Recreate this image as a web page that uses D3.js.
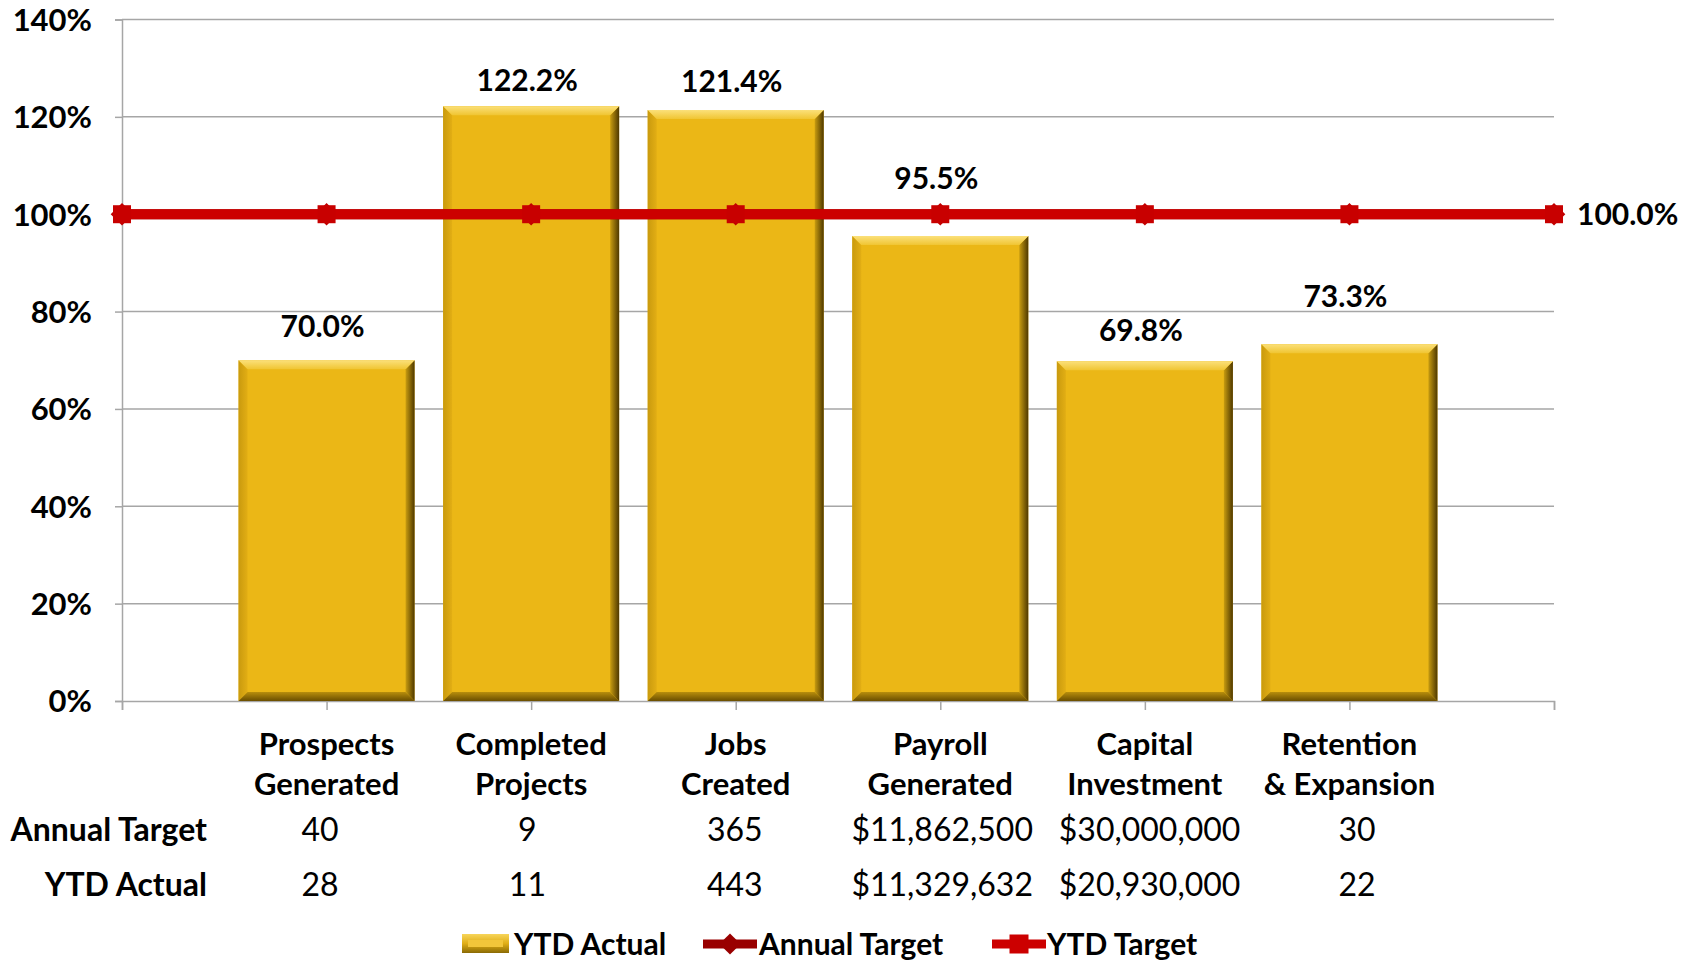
<!DOCTYPE html>
<html>
<head>
<meta charset="utf-8">
<script src="https://cdn.jsdelivr.net/npm/d3@7"></script>
<style>
  body { margin: 0; background: #fff; }
  svg text { font-family: Lato, "Open Sans", sans-serif; fill: #000; }
</style>
</head>
<body>
<svg id="svgContent" width="1694" height="960"></svg>
<script>
// chart data
const categories = ["", "Prospects\nGenerated", "Completed\nProjects", "Jobs\nCreated", "Payroll\nGenerated", "Capital\nInvestment", "Retention\n& Expansion", " "];
const ytdActual = [null, 0.700, 1.222, 1.214, 0.955, 0.698, 0.733, null];
const annualTarget = [1, 1, 1, 1, 1, 1, 1, 1];
const ytdTarget = [1, 1, 1, 1, 1, 1, 1, 1];
const yTicks = [0, 0.2, 0.4, 0.6, 0.8, 1.0, 1.2, 1.4];
const tableRows = ["Annual Target", "YTD Actual"];
const annualTargetText = ["", "40", "9", "365", "$11,862,500", "$30,000,000", "30", ""];
const ytdActualText = ["", "28", "11", "443", "$11,329,632", "$20,930,000", "22", ""];

svg = d3.select('#svgContent')
width = +svg.attr('width');
height = +svg.attr('height');

const x = d3.scalePoint()
    .domain(d3.range(categories.length))
    .range([122, 1554]);
// the data table columns are a little wider than the plot categories
const tx = d3.scalePoint()
    .domain(d3.range(categories.length))
    .range([112.6, 1564.4]);
const y = d3.scaleLinear()
    .domain([0, 1.4])
    .range([701, 19.5]);

const barW = 176;
const bev = 9;
const fmt = d3.format(".1%");

// gradients for the bevelled bars
const defs = svg.append('defs');
function grad(id, x2, y2, stops) {
    const g = defs.append('linearGradient').attr('id', id)
        .attr('x1', 0).attr('y1', 0).attr('x2', x2).attr('y2', y2);
    stops.forEach(s => g.append('stop').attr('offset', s[0]).attr('stop-color', s[1]));
}
grad('bTop', 0, 1, [[0, '#FBE07A'], [1, '#F0C532']]);
grad('bRight', 1, 0, [[0, '#C89C10'], [1, '#4E3800']]);
grad('bBottom', 0, 1, [[0, '#B88E0C'], [1, '#6A4E00']]);
grad('bLeft', 1, 0, [[0, '#C99A0E'], [1, '#E2AE14']]);
grad('legSw', 0, 1, [[0, '#F7D55A'], [0.5, '#E0AE16'], [1, '#8A6A04']]);

// gridlines + y axis
const yAxis = svg.append('g')
    .attr('transform', 'translate(122,0)')
    .call(d3.axisLeft(y).tickValues(yTicks).tickFormat(d3.format(".0%")).tickSize(7).tickPadding(23));
yAxis.select('.domain').attr('stroke', '#A6A6A6').attr('stroke-width', 1.5);
yAxis.selectAll('.tick line').attr('stroke', '#A6A6A6').attr('stroke-width', 1.5);
yAxis.selectAll('.tick text')
    .attr('font-family', 'Lato, sans-serif')
    .attr('font-size', 31).attr('font-weight', 700).attr('fill', '#000')
    .attr('dy', '0.35em');

svg.append('g')
    .selectAll('line')
    .data(yTicks.filter(d => d > 0))
    .enter()
    .append('line')
    .attr('x1', 122).attr('x2', 1554)
    .attr('y1', d => y(d)).attr('y2', d => y(d))
    .attr('stroke', '#A6A6A6').attr('stroke-width', 1.5);

// x axis with ticks on categories
const xAxis = svg.append('g')
    .attr('transform', 'translate(0,' + y(0) + ')')
    .call(d3.axisBottom(x).tickSize(9).tickFormat(''));
xAxis.select('.domain').attr('stroke', '#A6A6A6').attr('stroke-width', 1.5);
xAxis.selectAll('.tick line').attr('stroke', '#A6A6A6').attr('stroke-width', 1.5);

// bars
const barData = ytdActual.map((v, i) => ({ v: v, i: i })).filter(d => d.v != null);
const bars = svg.append('g')
    .selectAll('g')
    .data(barData)
    .enter().append('g')
    .attr('transform', d => 'translate(' + (x(d.i) - barW / 2) + ',' + y(d.v) + ')');

bars.append('rect')
    .attr('width', barW)
    .attr('height', d => y(0) - y(d.v))
    .attr('fill', '#EBB716');
bars.append('path')
    .attr('fill', 'url(#bLeft)')
    .attr('d', d => { const h = y(0) - y(d.v); return `M0,0L${bev},${bev}L${bev},${h - bev}L0,${h}Z`; });
bars.append('path')
    .attr('fill', 'url(#bBottom)')
    .attr('d', d => { const h = y(0) - y(d.v); return `M0,${h}L${bev},${h - bev}L${barW - bev},${h - bev}L${barW},${h}Z`; });
bars.append('path')
    .attr('fill', 'url(#bRight)')
    .attr('d', d => { const h = y(0) - y(d.v); return `M${barW},0L${barW - bev},${bev}L${barW - bev},${h - bev}L${barW},${h}Z`; });
bars.append('path')
    .attr('fill', 'url(#bTop)')
    .attr('d', `M0,0L${barW},0L${barW - bev},${bev}L${bev},${bev}Z`);

// target lines
const line = d3.line()
    .x((d, i) => x(i))
    .y(d => y(d));

function marker(g, color, kind, size) {
    if (kind === 'diamond') {
        g.append('rect')
            .attr('x', -size / 2).attr('y', -size / 2)
            .attr('width', size).attr('height', size)
            .attr('transform', 'rotate(45)')
            .attr('fill', color);
    } else {
        g.append('rect')
            .attr('x', -size / 2).attr('y', -size / 2)
            .attr('width', size).attr('height', size)
            .attr('fill', color);
    }
}

svg.append('path')
    .datum(annualTarget)
    .attr('d', line)
    .attr('fill', 'none')
    .attr('stroke', '#990000')
    .attr('stroke-width', 10);
svg.append('g')
    .selectAll('g')
    .data(annualTarget)
    .enter().append('g')
    .attr('transform', (d, i) => 'translate(' + x(i) + ',' + y(d) + ')')
    .each(function () { marker(d3.select(this), '#C00000', 'diamond', 16); });

svg.append('path')
    .datum(ytdTarget)
    .attr('d', line)
    .attr('fill', 'none')
    .attr('stroke', '#CC0000')
    .attr('stroke-width', 10);
svg.append('g')
    .selectAll('g')
    .data(ytdTarget)
    .enter().append('g')
    .attr('transform', (d, i) => 'translate(' + x(i) + ',' + y(d) + ')')
    .each(function () { marker(d3.select(this), '#C80000', 'square', 18); });

// data labels (a few were dragged by hand in the original)
const labelNudge = [0, 4, -4, -1, 28, 1, 18, 0];
svg.append('g')
    .selectAll('text')
    .data(barData)
    .enter()
    .append('text')
    .attr('x', d => x(d.i) - 4)
    .attr('y', d => y(d.v) - 30 - labelNudge[d.i])
    .attr('dy', '0.35em')
    .attr('text-anchor', 'middle')
    .attr('font-size', 30)
    .attr('font-weight', 700)
    .text(d => fmt(d.v));

svg.append('text')
    .attr('x', x(ytdTarget.length - 1) + 23)
    .attr('y', y(ytdTarget[ytdTarget.length - 1]))
    .attr('dy', '0.35em')
    .attr('font-size', 30)
    .attr('font-weight', 700)
    .text(fmt(ytdTarget[ytdTarget.length - 1]));

// category labels
const catG = svg.append('g')
    .selectAll('text')
    .data(categories.map((c, i) => ({ c: c, i: i })).filter(d => d.c.trim() !== ''))
    .enter()
    .append('text')
    .attr('text-anchor', 'middle')
    .attr('font-size', 31)
    .attr('font-weight', 700);
catG.selectAll('tspan')
    .data(d => d.c.split('\n').map(t => ({ t: t, i: d.i })))
    .enter()
    .append('tspan')
    .attr('x', d => x(d.i))
    .attr('y', (d, k) => 755 + k * 40)
    .text(d => d.t);

// data table
const tableY = [841, 896];
svg.append('g')
    .selectAll('text')
    .data(tableRows)
    .enter()
    .append('text')
    .attr('x', 207)
    .attr('y', (d, k) => tableY[k])
    .attr('text-anchor', 'end')
    .attr('font-size', 32)
    .attr('font-weight', 700)
    .text(d => d);

[annualTargetText, ytdActualText].forEach((row, k) => {
    svg.append('g')
        .selectAll('text')
        .data(row)
        .enter()
        .append('text')
        .attr('x', (d, i) => tx(i))
        .attr('y', tableY[k])
        .attr('text-anchor', 'middle')
        .attr('font-size', 32)
        .text(d => d);
});

// legend
const legY = 944;
const leg = svg.append('g');
leg.append('rect')
    .attr('x', 462).attr('y', legY - 10)
    .attr('width', 47).attr('height', 19)
    .attr('fill', 'url(#legSw)');
leg.append('rect')
    .attr('x', 468).attr('y', legY - 4)
    .attr('width', 35).attr('height', 7)
    .attr('fill', '#F2C63A');
leg.append('text')
    .attr('x', 514).attr('y', legY).attr('dy', '0.35em')
    .attr('font-size', 30).attr('font-weight', 700)
    .text('YTD Actual');

leg.append('line')
    .attr('x1', 703).attr('x2', 757)
    .attr('y1', legY).attr('y2', legY)
    .attr('stroke', '#990000').attr('stroke-width', 9);
marker(leg.append('g').attr('transform', 'translate(730,' + legY + ')'), '#990000', 'diamond', 15);
leg.append('text')
    .attr('x', 759).attr('y', legY).attr('dy', '0.35em')
    .attr('font-size', 30).attr('font-weight', 700)
    .text('Annual Target');

leg.append('line')
    .attr('x1', 992).attr('x2', 1046)
    .attr('y1', legY).attr('y2', legY)
    .attr('stroke', '#CC0000').attr('stroke-width', 9);
marker(leg.append('g').attr('transform', 'translate(1019,' + legY + ')'), '#CC0000', 'square', 19);
leg.append('text')
    .attr('x', 1047).attr('y', legY).attr('dy', '0.35em')
    .attr('font-size', 30).attr('font-weight', 700)
    .text('YTD Target');
</script>
</body>
</html>
